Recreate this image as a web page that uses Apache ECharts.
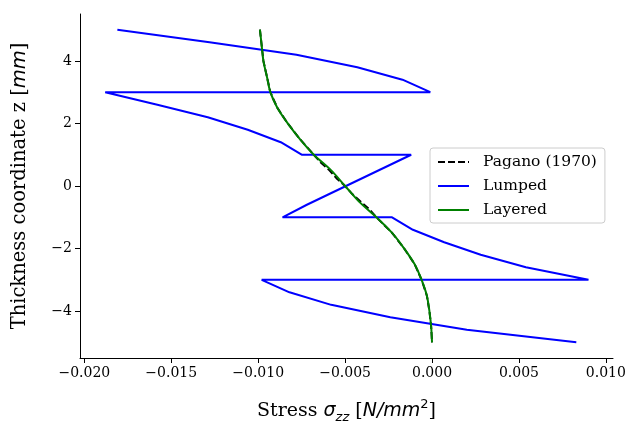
<!DOCTYPE html>
<html>
<head>
<meta charset="utf-8">
<script src="https://cdn.jsdelivr.net/npm/echarts@6/dist/echarts.min.js"></script>
<style>html,body{margin:0;padding:0;background:#fff}#c{width:630px;height:425px}</style>
</head>
<body>
<div id="c"></div>
<script>
// Thickness coordinates (z, mm) and stresses (N/mm^2)
const zPagano = [5,4.5,4,3.5,3,2.5,2,1.5,1,0.75,0.5,0.25,0,-0.25,-0.5,-0.75,-1,-1.5,-2,-2.5,-3,-3.5,-4,-4.5,-5];
const sPagano = [-0.0099,-0.0098,-0.0097,-0.0095,-0.0093,-0.0089,-0.0083,-0.0076,-0.0068,-0.0064,-0.0059,-0.0055,-0.0050,-0.0046,-0.0041,-0.0036,-0.0032,-0.0023,-0.0016,-0.0010,-0.0006,-0.0003,-0.00015,-0.00005,0];

const zLumped = [5,4.6,4.2,3.8,3.4,3.0, 3.0,2.6,2.2,1.8,1.4,1.0, 1.0,0.6,0.2,-0.2,-0.6,-1.0, -1.0,-1.4,-1.8,-2.2,-2.6,-3.0, -3.0,-3.4,-3.8,-4.2,-4.6,-5.0];
const sLumped = [-0.0181,-0.0128,-0.0078,-0.0043,-0.0017,-0.0001, -0.0188,-0.0158,-0.0129,-0.0106,-0.0087,-0.0075, -0.0012,-0.0027,-0.0042,-0.0057,-0.0072,-0.0086, -0.0023,-0.0011,0.0007,0.0028,0.0054,0.0090, -0.0098,-0.0082,-0.0058,-0.0024,0.0020,0.0083];

const zLayered = [5,4.5,4,3.5,3,2.5,2,1.5,1,0.5,0,-0.5,-1,-1.5,-2,-2.5,-3,-3.5,-4,-4.5,-5];
const sLayered = [-0.0099,-0.0098,-0.0097,-0.0095,-0.0093,-0.0089,-0.0083,-0.0076,-0.0068,-0.0058,-0.0050,-0.0042,-0.0032,-0.0023,-0.0016,-0.0010,-0.0006,-0.0003,-0.00015,-0.00005,0];

const xTicks = [-0.020,-0.015,-0.010,-0.005,0.000,0.005,0.010];
const yTicks = [-4,-2,0,2,4];

const pairs = (xs, zs) => xs.map((v, i) => [v, zs[i]]);
const fmtX = v => { const s = Math.abs(v).toFixed(3); return (v < -1e-12 ? '\u2212' : '') + s; };
const fmtY = v => (v < 0 ? '\u2212' : '') + Math.abs(v);

const serif = 'DejaVu Serif';
const chart = echarts.init(document.getElementById('c'), null, {renderer: 'canvas'});
chart.setOption({
  animation: false,
  backgroundColor: '#fff',
  grid: {left: 80, right: 17, top: 14, bottom: 67, containLabel: false, outerBoundsMode: 'none'},
  xAxis: {
    type: 'value', min: -0.02025, max: 0.01041,
    splitLine: {show: false},
    axisLine: {onZero: false, lineStyle: {color: '#000', width: 1}},
    axisTick: {show: true, length: 5, lineStyle: {color: '#000', width: 1}, customValues: xTicks},
    axisLabel: {customValues: xTicks, formatter: fmtX, color: '#000', fontFamily: serif, fontSize: 14, margin: 8},
    name: 'Stress {i|σ}{s|zz} [{i|N/mm}{p|2}]',
    nameLocation: 'middle', nameGap: 40,
    nameTextStyle: {
      color: '#000', fontFamily: serif, fontSize: 19, lineHeight: 26,
      rich: {
        i: {fontFamily: 'DejaVu Sans', fontStyle: 'italic', fontSize: 19, color: '#000', lineHeight: 26},
        s: {fontFamily: 'DejaVu Sans', fontStyle: 'italic', fontSize: 13, color: '#000', verticalAlign: 'bottom', lineHeight: 26},
        p: {fontFamily: 'DejaVu Sans', fontSize: 13, color: '#000', verticalAlign: 'top', lineHeight: 26}
      }
    }
  },
  yAxis: {
    type: 'value', min: -5.5, max: 5.5,
    splitLine: {show: false},
    axisLine: {onZero: false, lineStyle: {color: '#000', width: 1}},
    axisTick: {show: true, length: 5, lineStyle: {color: '#000', width: 1}, customValues: yTicks},
    axisLabel: {customValues: yTicks, formatter: fmtY, color: '#000', fontFamily: serif, fontSize: 14, margin: 8},
    name: 'Thickness coordinate z [{i|mm}]',
    nameLocation: 'middle', nameGap: 50, nameRotate: 90,
    nameTextStyle: {
      color: '#000', fontFamily: serif, fontSize: 19.5,
      rich: {i: {fontFamily: 'DejaVu Sans', fontStyle: 'italic', fontSize: 19.5, color: '#000'}}
    }
  },
  legend: {
    show: true, orient: 'vertical', left: 430, top: 148,
    padding: [6, 8, 5, 7], itemGap: 8, itemWidth: 31, itemHeight: 15,
    itemStyle: {opacity: 0},
    backgroundColor: 'rgba(255,255,255,0.8)', borderColor: '#ccc', borderWidth: 1, borderRadius: 3,
    textStyle: {fontFamily: serif, fontSize: 15.5, color: '#000', padding: [0, 0, 0, 9]},
    data: ['Pagano (1970)', 'Lumped', 'Layered']
  },
  series: [
    {name: 'Pagano (1970)', type: 'line', data: pairs(sPagano, zPagano), showSymbol: false, symbol: 'none',
     lineStyle: {color: '#000', width: 2, type: [7, 3]}, itemStyle: {color: '#000'}, z: 2},
    {name: 'Lumped', type: 'line', data: pairs(sLumped, zLumped), showSymbol: false, symbol: 'none',
     lineStyle: {color: '#0000ff', width: 2}, itemStyle: {color: '#0000ff'}, z: 3},
    {name: 'Layered', type: 'line', data: pairs(sLayered, zLayered), showSymbol: false, symbol: 'none', smooth: 0.3,
     lineStyle: {color: '#008000', width: 2}, itemStyle: {color: '#008000'}, z: 4}
  ]
});
</script>
</body>
</html>
